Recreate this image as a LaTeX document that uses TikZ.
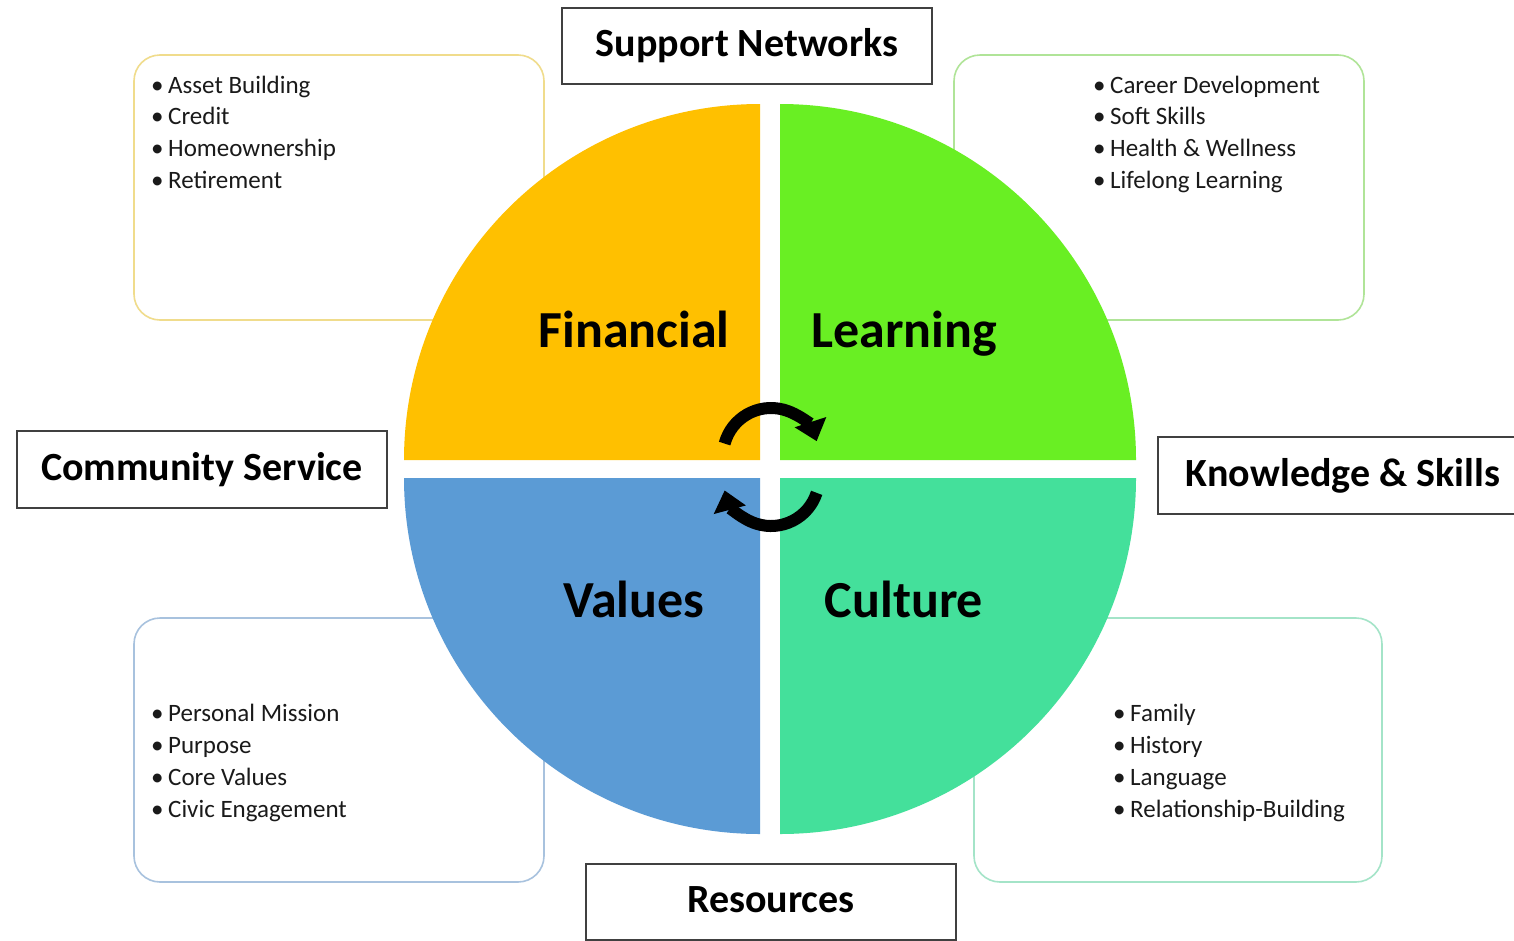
\documentclass[tikz,border=0pt]{standalone}
\usepackage{fontspec}
\setmainfont{Carlito}
\usetikzlibrary{arrows.meta}
\definecolor{finC}{HTML}{FFC000}
\definecolor{lrnC}{HTML}{69EF23}
\definecolor{valC}{HTML}{5B9BD5}
\definecolor{culC}{HTML}{44E09B}
\definecolor{finB}{HTML}{F0DC8C}
\definecolor{lrnB}{HTML}{B0E498}
\definecolor{valB}{HTML}{A8C2DE}
\definecolor{culB}{HTML}{A4E4C8}
\definecolor{lblB}{HTML}{404040}
\definecolor{txtC}{HTML}{1A1A1A}
\tikzset{
  listbox/.style={line width=1.6pt, rounded corners=26pt},
  lblbox/.style={draw=lblB, line width=1.6pt, fill=white, minimum width=370pt,
     inner sep=0pt, font=\fontsize{40}{46}\selectfont\bfseries, text=black},
  quadlbl/.style={font=\fontsize{52}{60}\selectfont\bfseries, text=black, inner sep=0pt, anchor=base},
  bul/.style={anchor=base west, inner sep=0pt, text=txtC, font=\fontsize{25}{30}\selectfont},
  cyc/.style={line width=12pt, -{Triangle[length=20pt,width=32pt]}}
}
\newcommand{\bitem}[1]{\makebox[17pt][l]{\textbullet}#1}
\begin{document}
\begin{tikzpicture}[x=1pt,y=-1pt]
\useasboundingbox (0,0) rectangle (1514,940);
\fill[white] (0,0) rectangle (1514,940);
% list boxes
\draw[listbox, draw=finB] (134,55) rectangle (544,320);
\draw[listbox, draw=lrnB] (954,55) rectangle (1364,320);
\draw[listbox, draw=valB] (134,618) rectangle (544,882);
\draw[listbox, draw=culB] (974,618) rectangle (1382,882);
% quadrants
\fill[finC] (760,460) -- (404,460) arc[start angle=180, end angle=270, radius=356] -- cycle;
\fill[lrnC] (780,460) -- (780,104) arc[start angle=270, end angle=360, radius=356] -- cycle;
\fill[culC] (780,478) -- (1136,478) arc[start angle=0, end angle=90, radius=356] -- cycle;
\fill[valC] (760,478) -- (760,834) arc[start angle=90, end angle=180, radius=356] -- cycle;
% quadrant labels
\node[quadlbl] (fin) at (634,347) {Financial};
\node[quadlbl] (lrn) at (904,347) {Learning};
\node[quadlbl] (val) at (634,617) {Values};
\node[quadlbl] (cul) at (904,617) {Culture};
% cycle arrows
\draw[cyc] (771,456) ++(-165:48) arc[start angle=-165, end angle=-18, radius=48];
\draw[cyc] (771,478) ++(18:48) arc[start angle=18, end angle=165, radius=48];
% lists
\foreach \t [count=\i] in {Asset Building,Credit,Homeownership,Retirement}
  \node[bul] (fl\i) at (151,{93+31.7*(\i-1)}) {\bitem{\t}};
\foreach \t [count=\i] in {Career Development,Soft Skills,Health \& Wellness,Lifelong Learning}
  \node[bul] (ll\i) at (1093,{93+31.7*(\i-1)}) {\bitem{\t}};
\foreach \t [count=\i] in {Personal Mission,Purpose,Core Values,Civic Engagement}
  \node[bul] (vl\i) at (151,{721+32*(\i-1)}) {\bitem{\t}};
\foreach \t [count=\i] in {Family,History,Language,Relationship-Building}
  \node[bul] (cl\i) at (1113,{721+32*(\i-1)}) {\bitem{\t}};
% label boxes
\node[lblbox, minimum height=76pt] (sup) at (747,46) {\raisebox{3pt}{Support Networks}};
\node[lblbox, minimum height=77pt] (com) at (202,469.5) {\raisebox{2pt}{Community Service}};
\node[lblbox, minimum height=77pt] (kno) at (1343,475.5) {\raisebox{2pt}{Knowledge \& Skills}};
\node[lblbox, minimum height=76pt] (res) at (771,902) {\raisebox{4pt}{Resources}};
\end{tikzpicture}
\end{document}
